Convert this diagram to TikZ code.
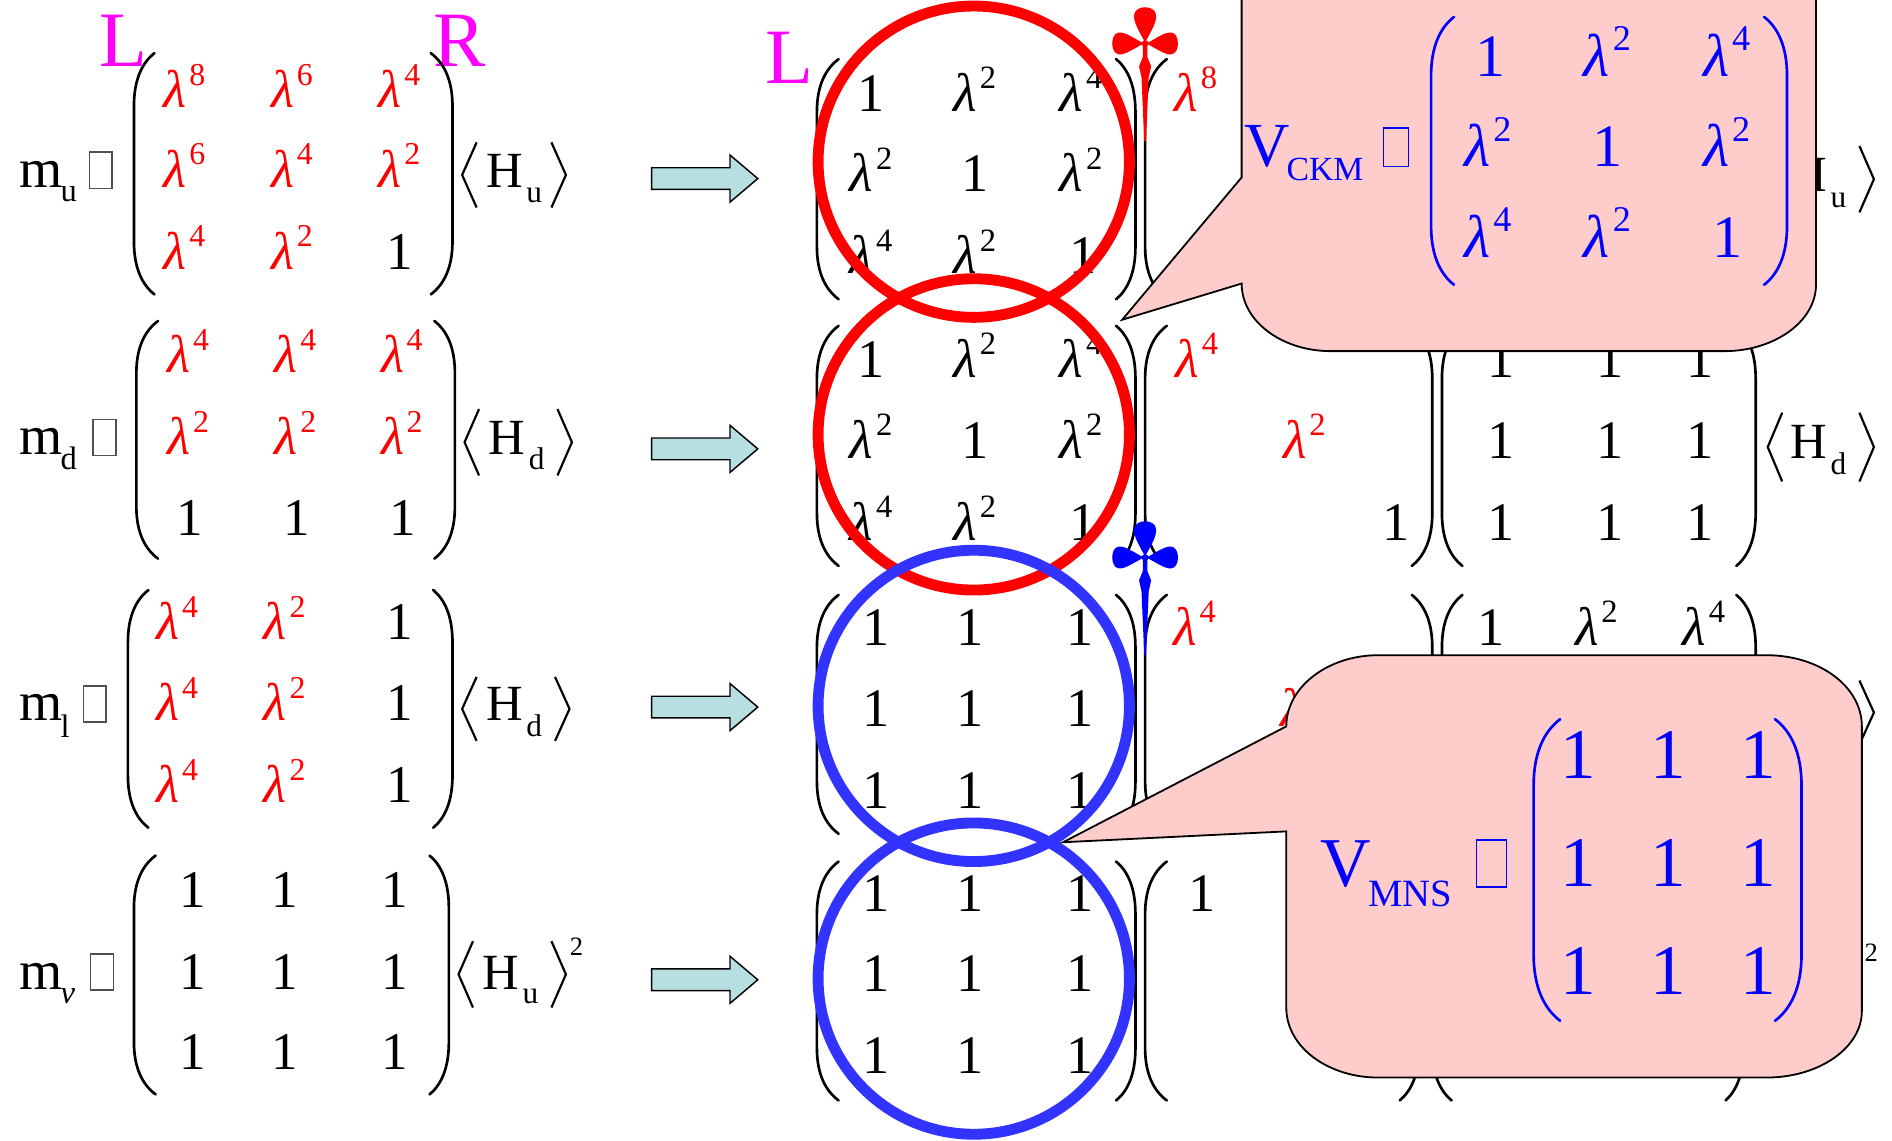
\documentclass[tikz,border=0pt]{standalone}
\usepackage{graphicx}
\usepackage{fontspec}
\setmainfont{Liberation Serif}
\definecolor{cmag}{RGB}{255,0,255}
\definecolor{cred}{RGB}{255,0,0}
\definecolor{cblue}{RGB}{0,0,255}
\definecolor{ccirc}{RGB}{51,51,255}
\definecolor{cpink}{RGB}{255,204,204}
\definecolor{carrow}{RGB}{183,222,224}
\definecolor{cbox}{RGB}{80,80,80}
\newcommand\fs[1]{\fontsize{#1}{#1}\selectfont}
\newcommand\lm[1]{\textit{λ}\kern0.05em\raisebox{0.42em}{\scalebox{0.6}{#1}}}
\newcommand\mypar[5][]{%
  \draw[parst,#1] (#3,#4) .. controls ({#3-0.6*(#3-#2)},{#4+0.04*(#5-#4)}) and (#2,{#4+0.11*(#5-#4)}) .. (#2,{#4+0.22*(#5-#4)})
    -- (#2,{#5-0.22*(#5-#4)}) .. controls (#2,{#5-0.11*(#5-#4)}) and ({#3-0.6*(#3-#2)},{#5-0.04*(#5-#4)}) .. (#3,#5);}
\newcommand\langb[4][]{\draw[angst,#1] ({#2+12},#3) -- (#2,{(#3+#4)/2}) -- ({#2+12},#4);}
\newcommand\rangb[4][]{\draw[angst,#1] (#2,#3) -- ({#2+12},{(#3+#4)/2}) -- (#2,#4);}
\newcommand\rarrow[1]{\draw[arrst] (540,{#1-9}) -- (605,{#1-9}) -- (605,{#1-19.5}) -- (628,#1) -- (605,{#1+19.5}) -- (605,{#1+9}) -- (540,{#1+9}) -- cycle;}
\newcommand\dagg[3]{%
  \begin{scope}[shift={(#1,#2)}]
    \fill[#3] (0,-1) .. controls (-5,-10) and (-10,-18) .. (-9,-24) .. controls (-8,-32) and (8,-32) .. (9,-24) .. controls (10,-18) and (5,-10) .. (0,-1) -- cycle;
    \fill[#3] (-1,0) .. controls (-9,-4) and (-17,-10) .. (-22,-9) .. controls (-29,-8) and (-29,8) .. (-22,9) .. controls (-17,10) and (-9,4) .. (-1,0) -- cycle;
    \fill[#3] (1,0) .. controls (9,-4) and (17,-10) .. (22,-9) .. controls (29,-8) and (29,8) .. (22,9) .. controls (17,10) and (9,4) .. (1,0) -- cycle;
    \fill[#3] (0,0) circle (2.8);
    \fill[#3] (-1.8,0) -- (-1.8,11) -- (-5,19) -- (-3,28) -- (-0.7,81) -- (0.7,81) -- (3,28) -- (5,19) -- (1.8,11) -- (1.8,0) -- cycle;
  \end{scope}}
\tikzset{
  parst/.style={line width=2.2pt, line cap=round},
  angst/.style={line width=1.8pt, line join=miter},
  arrst/.style={draw=black, line width=1.2pt, fill=carrow, line join=miter},
  ent/.style={anchor=base, inner sep=0pt, font=\fs{44}},
  mid/.style={anchor=base, inner sep=0pt, font=\fs{45}},
  ckm/.style={anchor=base, inner sep=0pt, font=\fs{50}, text=cblue},
  mns/.style={anchor=base, inner sep=0pt, font=\fs{59}, text=cblue},
  lbl/.style={anchor=base west, inner sep=0pt},
  tofu/.style={draw=cbox, line width=1.2pt, inner sep=0pt, minimum width=19pt, minimum height=30pt},
  circ/.style={line width=9pt},
  callout/.style={draw=black, line width=1.5pt, fill=cpink, line join=miter}
}
\begin{document}
\begin{tikzpicture}[x=1pt,y=-1pt]
\useasboundingbox (0,0) rectangle (1568,945);
\fill[white] (0,0) rectangle (1568,945);
\clip (0,0) rectangle (1568,945);

% ---------- left column ----------
\node[lbl,font=\fs{65},text=cmag] (tL) at (82,55) {L};
\node[lbl,font=\fs{65},text=cmag] (tR) at (359,55) {R};

% m_u
\node[lbl,font=\fs{46}] (mu) at (16,155) {m};
\node[lbl,font=\fs{27}] (mus) at (50,167) {u};
\node[tofu] (bxu) at (83.5,141) {};
\mypar{111}{128}{44}{244}
\mypar{375}{357}{44}{244}
\foreach \t/\x/\y/\c [count=\i] in {\lm8/153/89/cred, \lm6/242/89/cred, \lm4/331/89/cred,
  \lm6/153/155/cred, \lm4/242/155/cred, \lm2/331/155/cred,
  \lm4/153/223/cred, \lm2/242/223/cred, 1/331/223/black}
  {\node[ent,text=\c] (mua\i) at (\x,\y) {\t};}
\langb{383}{118}{172}
\node[lbl,font=\fs{42}] (hu1) at (403,155) {H};
\node[lbl,font=\fs{26}] (hu1s) at (436,168) {u};
\rangb{457}{118}{172}

% m_d
\node[lbl,font=\fs{46}] (md) at (16,377) {m};
\node[lbl,font=\fs{27}] (mds) at (50,389) {d};
\node[tofu] (bxd) at (86.5,362.5) {};
\mypar{113}{131}{266}{463}
\mypar{377}{360}{266}{463}
\foreach \t/\x/\y/\c [count=\i] in {\lm4/156/309/cred, \lm4/245/309/cred, \lm4/333/309/cred,
  \lm2/156/377/cred, \lm2/245/377/cred, \lm2/333/377/cred,
  1/157/444/black, 1/246/444/black, 1/334/444/black}
  {\node[ent,text=\c] (mda\i) at (\x,\y) {\t};}
\langb{385}{339}{394}
\node[lbl,font=\fs{42}] (hd1) at (405,377) {H};
\node[lbl,font=\fs{26}] (hd1s) at (438,389) {d};
\rangb{462}{339}{394}

% m_l
\node[lbl,font=\fs{46}] (ml) at (16,597) {m};
\node[lbl,font=\fs{27}] (mls) at (50,611) {l};
\node[tofu] (bxl) at (78.5,583.5) {};
\mypar{106}{123}{489}{686}
\mypar{375}{359}{489}{686}
\foreach \t/\x/\y/\c [count=\i] in {\lm4/147/530/cred, \lm2/236/530/cred, 1/331/530/black,
  \lm4/147/597/cred, \lm2/236/597/cred, 1/331/597/black,
  \lm4/147/665/cred, \lm2/236/665/cred, 1/331/665/black}
  {\node[ent,text=\c] (mla\i) at (\x,\y) {\t};}
\langb{383}{561}{614}
\node[lbl,font=\fs{42}] (hd2) at (403,597) {H};
\node[lbl,font=\fs{26}] (hd2s) at (436,610) {d};
\rangb{460}{561}{614}

% m_nu
\node[lbl,font=\fs{46}] (mn) at (16,820) {m};
\node[lbl,font=\fs{27}] (mns) at (50,832) {\textit{ν}};
\node[tofu] (bxn) at (84.5,805.5) {};
\mypar{111}{129}{709}{907}
\mypar{372}{356}{709}{907}
\foreach \x/\y [count=\i] in {160/752, 236/752, 327/752, 160/820, 236/820, 327/820, 160/886, 236/886, 327/886}
  {\node[ent] (mna\i) at (\x,\y) {1};}
\langb{380}{780}{835}
\node[lbl,font=\fs{42}] (hu2) at (400,820) {H};
\node[lbl,font=\fs{26}] (hu2s) at (433,832) {u};
\rangb{457}{780}{835}
\node[lbl,font=\fs{22}] (hu2p) at (472,792) {2};

% arrows
\rarrow{148}
\rarrow{372}
\rarrow{586}
\rarrow{812}

% ---------- middle column ----------
\node[lbl,font=\fs{65},text=cmag] (tL2) at (634,69) {L};
\foreach \tp/\bt in {49/248, 270/469, 493/691, 714/912} {
  \mypar{677}{695}{\tp}{\bt}
  \mypar{941}{925}{\tp}{\bt}
  \mypar{949}{967}{\tp}{\bt}
}
\foreach \tp/\bt in {270/469, 493/691} {
  \mypar{1187}{1170}{\tp}{\bt}
  \mypar{1195}{1212}{\tp}{\bt}
  \mypar{1455}{1439}{\tp}{\bt}
}
\mypar{1176}{1160}{714}{912}
\mypar{1187}{1203}{714}{912}
\mypar{1445}{1430}{714}{912}

\foreach \r/\yy in {1/92, 2/313} {
  \foreach \t/\x/\dy [count=\i] in {1/722/0, \lm2/808/0, \lm4/896/0, \lm2/722/67, 1/808/67, \lm2/896/67, \lm4/722/135, \lm2/808/135, 1/898/135}
    {\node[mid] (c\r e\i) at (\x,{\yy+\dy}) {\t};}
}
\foreach \r/\yy in {3/535, 4/755} {
  \foreach \x/\dy [count=\i] in {726/0, 804/0, 895/0, 726/67, 804/67, 895/67, 726/135, 804/135, 895/135}
    {\node[mid] (c\r e\i) at (\x,{\yy+\dy}) {1};}
}
% diagonal entries
\node[mid,text=cred] (d1a) at (991,92) {\lm8};
\node[mid,text=cred] (d2a) at (992,313) {\lm4};
\node[mid,text=cred] (d2b) at (1081,380) {\lm2};
\node[mid] (d2c) at (1157,448) {1};
\node[mid,text=cred] (d3a) at (990,535) {\lm4};
\node[mid,text=cred] (d3b) at (1079,602) {\lm2};
\node[mid] (d4a) at (996,755) {1};
% right matrices
\node[mid] (r2a) at (1244,313) {1};
\node[mid] (r2b) at (1334,313) {1};
\node[mid] (r2c) at (1409,313) {1};
\node[mid] (r2d) at (1244,380) {1};
\node[mid] (r2e) at (1334,380) {1};
\node[mid] (r2f) at (1409,380) {1};
\node[mid] (r2g) at (1244,448) {1};
\node[mid] (r2h) at (1334,448) {1};
\node[mid] (r2i) at (1409,448) {1};
\node[mid] (r3a) at (1236,535) {1};
\node[mid] (r3b) at (1323,535) {\lm2};
\node[mid] (r3c) at (1412,535) {\lm4};
% right vevs
\langb{1465}{121}{176}
\node[lbl,font=\fs{42}] (hu3) at (1484,159) {H};
\node[lbl,font=\fs{26}] (hu3s) at (1517,172) {u};
\rangb{1541}{121}{176}
\langb{1465}{342}{399}
\node[lbl,font=\fs{42}] (hd3) at (1484,380) {H};
\node[lbl,font=\fs{26}] (hd3s) at (1517,393) {d};
\rangb{1541}{342}{399}
\rangb{1541}{564}{617}
\node[lbl,font=\fs{22}] (hu4p) at (1545,797) {2};

% circles
\draw[circ,cred] (807,134) circle [radius=129];
\draw[circ,cred] (807,360) circle [radius=129];
\draw[circ,ccirc] (807,585) circle [radius=129];
\draw[circ,ccirc] (807,811) circle [radius=129];

% daggers
\dagg{949}{36}{cred}
\dagg{949}{462}{cblue}

% ---------- CKM callout ----------
\draw[callout] (1029,-20) -- (1029,147) -- (930,265) -- (1029,235)
  .. controls (1029,266) and (1062,291) .. (1103,291) -- (1429,291)
  .. controls (1471,291) and (1505,266) .. (1505,236) -- (1505,-20) -- cycle;
\node[lbl,font=\fs{52},text=cblue] (vckm) at (1031,138) {V};
\node[lbl,font=\fs{28},text=cblue] (vckms) at (1066,150) {CKM};
\node[tofu,draw=cblue,minimum width=21pt,minimum height=32pt] (bxc) at (1157,122) {};
\mypar[cblue]{1186}{1205}{14}{236}
\mypar[cblue]{1481}{1462}{14}{236}
\foreach \t/\x/\y [count=\i] in {1/1235/63, \lm2/1332/63, \lm4/1431/63,
  \lm2/1233/138, 1/1332/138, \lm2/1431/138,
  \lm4/1233/213, \lm2/1332/213, 1/1432/213}
  {\node[ckm] (k\i) at (\x,\y) {\t};}

% ---------- MNS callout ----------
\draw[callout] (1066,602) .. controls (1066,569) and (1101,543) .. (1142,543) -- (1464,543)
  .. controls (1508,543) and (1543,569) .. (1543,602) -- (1543,838)
  .. controls (1543,868) and (1508,893) .. (1464,893) -- (1142,893)
  .. controls (1101,893) and (1066,868) .. (1066,835) -- (1066,689) -- (881,698) -- cycle;
\node[lbl,font=\fs{58},text=cblue] (vmns) at (1094,735) {V};
\node[lbl,font=\fs{32},text=cblue] (vmnss) at (1134,751) {MNS};
\node[tofu,draw=cblue,minimum width=25pt,minimum height=39pt] (bxm) at (1236,715.5) {};
\mypar[cblue]{1271}{1293}{596}{846}
\mypar[cblue]{1493}{1471}{596}{846}
\foreach \x/\y [count=\i] in {1308/645, 1383/645, 1457/645, 1308/735, 1383/735, 1457/735, 1308/824, 1383/824, 1457/824}
  {\node[mns] (n\i) at (\x,\y) {1};}
\end{tikzpicture}
\end{document}
